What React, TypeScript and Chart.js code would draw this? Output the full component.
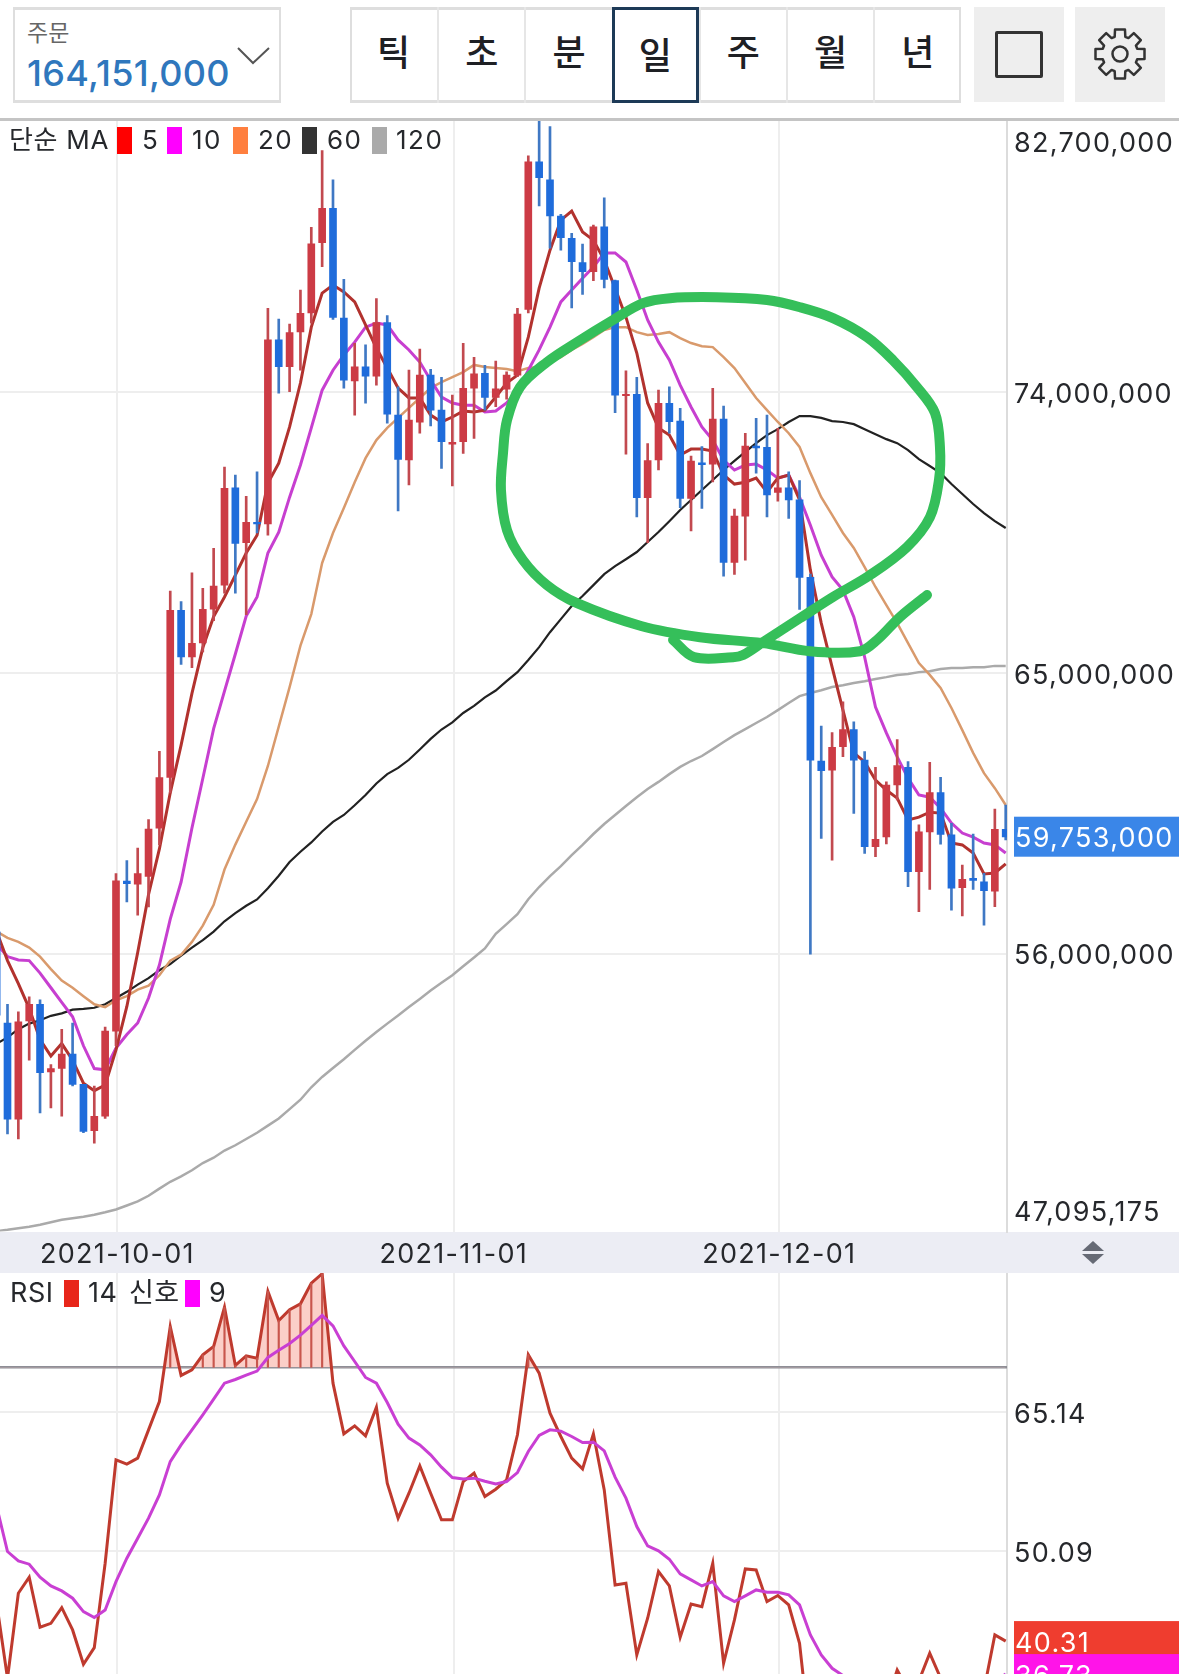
import { useEffect, useRef } from 'react'
import { Chart, registerables } from 'chart.js'

Chart.register(...registerables)

const FONT = "Inter, 'Noto Sans CJK KR', sans-serif"

// prices in millions of KRW, one entry per daily candle
const opens = [56.70,53.78,50.70,53.85,54.38,52.21,52.32,52.78,51.81,50.33,50.79,53.52,58.33,58.23,58.48,60.03,61.65,67.01,65.52,65.97,67.05,67.82,70.94,69.18,69.83,69.78,75.68,74.82,75.94,76.55,78.80,79.90,76.38,74.37,74.82,74.52,76.24,73.27,71.83,73.04,74.55,73.43,72.34,72.42,74.13,74.61,73.84,74.10,74.55,76.66,81.39,80.81,79.65,78.94,78.16,77.87,79.31,77.58,73.89,73.94,70.62,71.83,73.65,73.08,70.60,71.74,71.70,73.14,68.55,70.03,72.28,72.24,70.79,70.94,70.55,68.07,62.18,61.89,62.64,63.19,62.21,59.43,59.75,61.41,61.98,58.63,59.91,61.17,59.81,58.12,58.42,58.31,58.01,59.99]
const highs = [58.04,54.38,54.14,54.62,54.52,52.45,53.58,53.78,51.81,51.76,53.65,58.57,58.99,59.39,60.30,62.49,67.63,67.29,68.21,67.72,69.00,71.60,71.35,70.67,71.45,76.69,76.35,76.19,77.28,79.29,81.75,80.81,77.62,75.57,75.52,77.01,76.46,74.18,74.71,75.39,74.74,74.48,73.91,75.57,75.12,74.87,75.00,74.66,76.69,81.58,82.70,82.52,79.71,79.10,78.75,79.36,80.24,77.60,74.69,74.48,72.36,74.07,74.18,73.49,71.96,72.26,74.13,73.56,70.26,72.69,73.17,73.27,72.85,71.45,71.17,68.17,63.30,63.09,64.08,63.44,62.48,61.98,61.51,62.87,62.16,60.13,62.14,61.66,60.18,58.84,59.84,58.58,60.64,60.77]
const lows = [53.65,50.22,50.06,52.59,50.90,51.06,50.79,51.76,50.26,49.93,50.72,53.05,57.66,57.24,57.50,59.50,61.16,65.28,65.17,65.68,66.68,67.56,67.56,66.87,69.49,69.42,73.97,74.02,74.71,76.22,78.03,76.34,74.13,73.27,73.65,74.23,73.01,70.20,71.03,72.69,72.92,71.56,71.00,72.04,72.52,73.43,73.54,73.78,74.50,76.55,79.98,78.62,78.56,76.71,77.14,77.58,77.35,73.35,72.02,70.01,69.18,71.51,72.69,70.30,69.56,70.28,71.13,68.11,68.16,68.62,71.41,70.01,70.51,69.96,67.04,55.99,59.70,59.00,62.32,60.50,59.22,59.11,59.52,60.93,58.15,57.35,58.06,59.51,57.40,57.21,58.06,56.92,57.51,59.65]
const closes = [54.03,50.70,53.82,54.38,52.19,52.32,52.78,51.81,50.30,50.79,53.52,58.34,58.25,58.57,60.00,61.65,67.01,65.52,65.95,67.04,67.79,70.92,69.16,69.83,69.78,75.68,74.82,75.92,76.53,78.76,79.90,76.40,74.39,74.82,74.52,76.24,73.30,71.85,73.11,74.55,73.43,72.42,72.40,74.13,74.59,73.84,74.11,74.55,76.51,81.39,80.88,79.66,78.96,78.19,77.87,79.31,77.62,73.91,73.94,70.62,71.81,73.65,73.06,70.60,71.80,71.68,73.14,68.55,70.03,72.28,72.22,70.71,70.94,70.55,68.07,62.21,61.87,62.62,63.19,62.21,59.43,59.67,61.41,62.03,58.63,59.91,61.17,59.83,58.10,58.39,58.35,58.02,59.99,59.75]

const ma5 = [56.71,55.78,55.04,54.25,53.25,52.72,53.12,52.59,51.85,51.61,51.79,52.92,54.31,56.04,57.90,59.36,61.16,62.69,64.35,65.81,66.81,67.44,68.14,68.85,69.42,71.09,71.73,72.89,74.30,76.09,77.18,77.44,77.22,76.90,76.16,75.42,74.78,74.14,73.82,73.82,73.27,73.05,73.21,73.40,73.37,73.43,73.85,74.30,74.55,75.77,77.34,78.56,79.52,79.81,79.14,78.88,78.24,77.34,76.41,75.26,73.66,72.86,72.63,71.99,72.18,72.18,72.12,71.35,71.06,71.12,71.25,70.80,71.25,71.35,70.55,68.30,66.60,65.19,63.81,62.44,62.15,61.57,61.25,60.99,60.29,60.38,60.54,60.51,59.55,59.49,59.23,58.56,58.59,58.88]
const ma10 = [56.31,55.91,55.80,55.78,55.38,54.91,54.44,53.98,53.05,52.32,52.28,52.98,53.41,53.78,54.58,55.64,57.11,58.30,60.03,61.62,63.22,64.42,65.61,66.83,67.44,68.85,69.52,70.64,71.67,72.86,74.07,74.71,75.20,75.61,76.09,76.22,76.16,75.68,75.36,74.97,74.39,73.85,73.66,73.59,73.59,73.37,73.40,73.66,74.07,74.71,75.36,76.09,76.90,77.28,77.66,78.02,78.47,78.47,78.18,77.28,76.32,75.61,75.04,74.23,73.53,72.89,72.47,71.83,71.51,71.67,71.70,71.51,71.25,71.35,70.64,69.74,68.78,68.08,67.66,66.80,65.51,63.91,63.08,62.31,61.63,61.09,61.02,60.67,60.19,59.87,59.74,59.55,59.49,59.23]
const ma20 = [56.71,56.51,56.38,56.20,55.91,55.51,55.14,54.91,54.64,54.38,54.29,54.51,54.64,54.85,54.98,55.31,55.78,55.97,56.38,56.90,57.57,58.70,59.50,60.23,60.96,62.02,63.28,64.55,65.88,66.89,68.53,69.49,70.29,71.12,71.89,72.47,72.86,73.18,73.50,73.82,74.14,74.33,74.49,74.65,74.88,74.81,74.78,74.75,74.68,74.78,74.81,74.97,75.13,75.36,75.55,75.77,76.00,76.09,76.09,75.93,75.84,75.87,75.93,75.74,75.58,75.48,75.45,75.13,74.78,74.30,73.82,73.43,73.05,72.69,72.25,71.41,70.64,70.07,69.49,69.01,68.40,67.76,67.18,66.60,65.96,65.32,64.94,64.52,63.88,63.17,62.44,61.79,61.31,60.77]
const ma60 = [53.12,53.32,53.58,53.76,53.87,54.01,54.09,54.21,54.23,54.27,54.38,54.58,54.78,55.01,55.22,55.47,55.67,55.94,56.20,56.44,56.71,57.04,57.30,57.54,57.74,58.10,58.50,58.94,59.27,59.57,59.92,60.23,60.45,60.76,61.09,61.46,61.76,61.96,62.22,62.55,62.89,63.19,63.42,63.72,63.95,64.22,64.44,64.74,65.03,65.42,65.83,66.31,66.73,67.15,67.47,67.82,68.17,68.43,68.65,68.88,69.20,69.52,69.87,70.23,70.55,70.87,71.19,71.51,71.80,72.09,72.37,72.63,72.82,73.05,73.24,73.24,73.18,73.08,73.05,72.98,72.82,72.66,72.50,72.37,72.15,71.86,71.64,71.41,71.06,70.74,70.42,70.13,69.87,69.65]
const ma120 = [47.11,47.15,47.20,47.25,47.31,47.39,47.47,47.52,47.57,47.63,47.71,47.80,47.93,48.06,48.24,48.47,48.69,48.86,49.06,49.29,49.46,49.69,49.86,50.06,50.26,50.49,50.72,51.02,51.32,51.72,52.05,52.34,52.62,52.92,53.21,53.49,53.76,54.02,54.29,54.55,54.82,55.07,55.31,55.60,55.88,56.17,56.64,56.95,57.27,57.75,58.14,58.49,58.81,59.16,59.49,59.84,60.16,60.45,60.74,61.02,61.28,61.51,61.76,61.99,62.18,62.34,62.56,62.79,63.01,63.20,63.40,63.59,63.81,64.04,64.26,64.36,64.45,64.55,64.61,64.68,64.74,64.81,64.87,64.94,64.97,65.03,65.06,65.13,65.16,65.16,65.19,65.19,65.23,65.23]

const rsi = [44.41,36.28,45.50,47.23,41.81,42.24,43.94,41.52,37.80,39.60,48.75,59.97,59.50,60.15,63.22,66.29,74.43,69.12,69.73,71.36,72.26,76.53,70.20,71.25,71.00,78.23,75.08,76.24,76.89,79.13,80.15,68.28,62.79,63.65,62.57,65.68,57.43,53.64,56.35,59.31,56.35,53.46,53.46,57.61,58.52,55.99,56.78,57.80,62.68,71.36,69.37,65.03,62.50,60.15,58.99,62.79,56.71,46.40,46.58,38.81,42.79,47.85,46.29,40.72,44.34,44.05,48.75,37.90,42.61,48.14,48.03,44.59,45.25,44.23,40.07,29.4,30,31,33,32,30,31,33.5,37.18,35,36,38.99,36.3,33,34.5,34,35,40.98,40.31]
const rsiSignal = [54.90,50.02,49.01,48.65,47.23,46.29,45.75,44.96,43.51,42.86,43.69,46.76,49.30,51.47,53.64,56.17,59.78,61.59,63.22,64.85,66.55,68.28,68.68,69.15,69.59,71.07,71.86,72.59,73.49,74.54,75.63,74.50,72.33,70.63,68.90,68.28,66.19,63.84,62.32,61.59,60.51,59.17,58.05,57.90,57.98,57.65,57.36,57.61,58.59,60.87,62.61,63.22,63.08,62.50,61.85,61.88,60.94,58.09,55.81,52.73,50.63,50.09,49.19,47.60,46.95,46.29,46.76,45.21,44.59,45.21,45.86,45.61,45.61,45.32,44.23,40.98,38.81,37.36,36.57,35.5,34.5,33.5,33,33,33,33.3,34,34.5,34.5,34.5,34.8,35,36,36.73]

// hand drawn green circle, in the chart's own units (day index, price)
const penDays = [85.75,83.26,81.14,79.57,74.96,70.63,64.82,59.39,53.49,50.72,48.51,47.04,46.48,46.67,47.04,48.24,50.72,53.49,56.81,59.57,62.06,66.39,71.0,74.04,77.08,80.22,82.61,84.82,86.48,86.94,86.85,86.02,83.9,80.49,77.08,74.04,70.63,68.79,67.87,64.27,62.34]
const penPrices = [67.50,66.80,66.06,65.70,65.70,65.96,66.15,66.51,67.24,67.82,68.62,69.58,70.87,72.05,73.11,74.17,74.97,75.61,76.32,76.86,77.02,77.05,76.96,76.73,76.38,75.77,75.03,74.17,73.34,72.25,71.19,70.0,69.04,68.14,67.44,66.76,65.99,65.58,65.51,65.51,66.06]

// the date gridlines sit a little right of their candle in the original
const dateTicks = [11.13, 42.13, 72.13]
const dateLabels = ['2021-10-01', '2021-11-01', '2021-12-01']
const priceTicks = [74, 65, 56]
const priceTop = 82.7
const priceBottom = 47.095175
const lastPrice = 59.753
const rsiTicks = [65.14, 50.09]
const rsiTop = 80.23
const rsiBottom = 36.74
const rsiLimit = 70
const rsiLast = 40.31
const signalLast = 36.73

const tabs = ['틱', '초', '분', '일', '주', '월', '년']
const maLegend = [
  { label: '5', color: '#ff0000', box: 117, text: 142 },
  { label: '10', color: '#ff00ff', box: 167, text: 192 },
  { label: '20', color: '#ff7f3f', box: 233, text: 258 },
  { label: '60', color: '#333333', box: 302, text: 327 },
  { label: '120', color: '#aaaaaa', box: 372, text: 396 },
]

const DAY_MIN = 0.309
const DAY_MAX = 93.12
const RED = '#cc3b45'
const BLUE = '#1f6cdb'
const RED_WICK = '#c2494f'
const BLUE_WICK = '#3f78c4'
const GRID = '#eeeeee'

const days = closes.map((_, i) => i)
const toPoints = (values: number[]) => values.map((y, x) => ({ x, y }))
const won = (v: number) => Math.round(v * 1e6).toLocaleString('en-US')

const line = (label: string, data: number[], color: string, width: number, order: number) => ({
  type: 'line' as const,
  label,
  data: toPoints(data),
  borderColor: color,
  borderWidth: width,
  pointRadius: 0,
  tension: 0,
  order,
})

const xAxis = (showLabels: boolean) => ({
  type: 'linear' as const,
  min: DAY_MIN,
  max: DAY_MAX,
  offset: false,
  afterBuildTicks: (scale: any) => {
    scale.ticks = dateTicks.map((value) => ({ value }))
  },
  afterFit: (scale: any) => {
    scale.height = showLabels ? 41.5 : 0
    scale.paddingLeft = 0
    scale.paddingRight = 0
  },
  grid: { color: GRID, lineWidth: 2, drawTicks: false, offset: false },
  border: { display: false },
  ticks: {
    display: showLabels,
    autoSkip: false,
    maxRotation: 0,
    padding: 7,
    color: '#26282c',
    font: { family: FONT, size: 27 },
    callback: (_: any, index: number) => dateLabels[index],
  },
})

const yAxis = (min: number, max: number, values: number[], format: (v: number) => string) => ({
  type: 'linear' as const,
  position: 'right' as const,
  min,
  max,
  afterBuildTicks: (scale: any) => {
    scale.ticks = values.map((value) => ({ value }))
  },
  afterFit: (scale: any) => {
    scale.width = 172
    // the panel runs edge to edge, no room kept for half a tick label
    scale.paddingTop = 0
    scale.paddingBottom = 0
  },
  grid: { color: GRID, lineWidth: 2, drawTicks: false },
  border: { color: '#dcdcdc', width: 2 },
  ticks: {
    autoSkip: false,
    padding: 7,
    labelOffset: 2.5,
    color: '#26282c',
    font: { family: FONT, size: 27 },
    callback: (value: any) => format(value),
  },
})

const spacedText = {
  id: 'spacedText',
  beforeDraw: (chart: any) => {
    chart.ctx.letterSpacing = '1.3px'
  },
}

const priceLabels = {
  id: 'priceLabels',
  afterDraw: (chart: any) => {
    const { ctx, chartArea, scales } = chart
    const x = chartArea.right + 7
    ctx.save()
    ctx.font = `27px ${FONT}`
    ctx.textBaseline = 'middle'
    ctx.fillStyle = '#26282c'
    ctx.fillText(won(priceTop), x, chartArea.top + 23)
    ctx.fillText(won(priceBottom), x, chartArea.bottom - 19)
    const y = scales.y.getPixelForValue(lastPrice)
    ctx.fillStyle = '#3a86e8'
    ctx.fillRect(x, y - 20, 172, 40)
    ctx.fillStyle = '#ffffff'
    ctx.fillText(won(lastPrice), x + 1, y + 2.5)
    ctx.restore()
  },
}

const rsiLabels = {
  id: 'rsiLabels',
  afterDraw: (chart: any) => {
    const { ctx, chartArea, scales } = chart
    const x = chartArea.right + 7
    ctx.save()
    ctx.font = `27px ${FONT}`
    ctx.textBaseline = 'middle'
    const badges = [
      { value: rsiLast, color: '#ef3d2f' },
      { value: signalLast, color: '#ff14e8' },
    ]
    badges.forEach(({ value, color }) => {
      const y = scales.y.getPixelForValue(value)
      ctx.fillStyle = color
      ctx.fillRect(x, y - 20, 172, 40)
      ctx.fillStyle = '#ffffff'
      ctx.fillText(value.toFixed(2), x + 1, y + 2.5)
    })
    ctx.restore()
  },
}

function PriceChart() {
  const ref = useRef<HTMLCanvasElement>(null)

  useEffect(() => {
    if (!ref.current) return
    const candleColors = closes.map((c, i) => (c >= opens[i] ? RED : BLUE))
    const wickColors = closes.map((c, i) => (c >= opens[i] ? RED_WICK : BLUE_WICK))

    const chart = new Chart(ref.current, {
      type: 'bar',
      data: {
        datasets: [
          {
            type: 'line',
            label: 'pen',
            data: penDays.map((x, i) => ({ x, y: penPrices[i] })),
            borderColor: '#35bf5a',
            borderWidth: 10,
            borderCapStyle: 'round',
            borderJoinStyle: 'round',
            pointRadius: 0,
            tension: 0.35,
            order: 0,
          },
          {
            label: 'body',
            data: days.map((x) => ({ x, y: [opens[x], closes[x]] })),
            backgroundColor: candleColors,
            barThickness: 7,
            grouped: false,
            order: 1,
          },
          {
            label: 'wick',
            data: days.map((x) => ({ x, y: [lows[x], highs[x]] })),
            backgroundColor: wickColors,
            barThickness: 2,
            grouped: false,
            order: 2,
          },
          line('MA5', ma5, '#b2322e', 3, 3),
          line('MA10', ma10, '#c73fd0', 3, 4),
          line('MA20', ma20, '#d99a6c', 2.5, 5),
          line('MA60', ma60, '#222222', 2.2, 6),
          line('MA120', ma120, '#aaaaaa', 2.5, 7),
        ] as any,
      },
      options: {
        responsive: false,
        animation: false,
        events: [],
        layout: { padding: 0, autoPadding: false },
        plugins: { legend: { display: false }, tooltip: { enabled: false } },
        scales: {
          x: xAxis(true),
          y: yAxis(priceBottom, priceTop, priceTicks, won),
        } as any,
      },
      plugins: [spacedText, priceLabels],
    })

    return () => chart.destroy()
  }, [])

  return (
    <canvas
      ref={ref}
      width={1179}
      height={1152}
      style={{ position: 'absolute', left: 0, top: 121, display: 'block' }}
    />
  )
}

function RsiChart() {
  const ref = useRef<HTMLCanvasElement>(null)

  useEffect(() => {
    if (!ref.current) return

    const chart = new Chart(ref.current, {
      type: 'line',
      data: {
        datasets: [
          {
            type: 'line',
            label: 'signal',
            data: toPoints(rsiSignal),
            borderColor: '#c93fd3',
            borderWidth: 3,
            pointRadius: 0,
            tension: 0,
            order: 0,
          },
          {
            type: 'bar',
            label: 'over',
            data: days.filter((x) => rsi[x] > rsiLimit).map((x) => ({ x, y: [rsiLimit, rsi[x]] })),
            backgroundColor: '#c8564d',
            barThickness: 1.5,
            grouped: false,
            order: 0.5,
          },
          {
            type: 'line',
            label: 'RSI',
            data: toPoints(rsi),
            borderColor: '#bf3a2e',
            borderWidth: 3,
            pointRadius: 0,
            tension: 0,
            order: 1,
            fill: { target: { value: rsiLimit }, above: '#fbcfc8', below: 'rgba(0,0,0,0)' },
          },
          {
            type: 'line',
            label: 'limit',
            data: [
              { x: DAY_MIN, y: rsiLimit },
              { x: DAY_MAX, y: rsiLimit },
            ],
            borderColor: '#8e8e96',
            borderWidth: 2.5,
            pointRadius: 0,
            order: 3,
          },
        ] as any,
      },
      options: {
        responsive: false,
        animation: false,
        events: [],
        layout: { padding: 0, autoPadding: false },
        plugins: { legend: { display: false }, tooltip: { enabled: false } },
        scales: {
          x: xAxis(false),
          y: yAxis(rsiBottom, rsiTop, rsiTicks, (v) => v.toFixed(2)),
        } as any,
      },
      plugins: [spacedText, rsiLabels],
    })

    return () => chart.destroy()
  }, [])

  return (
    <canvas
      ref={ref}
      width={1179}
      height={401}
      style={{ position: 'absolute', left: 0, top: 1273, display: 'block' }}
    />
  )
}

function Gear() {
  // eight teeth around a ring
  const pts: string[] = []
  for (let i = 0; i < 8; i++) {
    const a = (i * Math.PI) / 4 - Math.PI / 2
    ;[[-0.3, 18], [-0.2, 25], [0.2, 25], [0.3, 18]].forEach(([da, r]) => {
      pts.push(`${30 + r * Math.cos(a + da)},${30 + r * Math.sin(a + da)}`)
    })
  }
  return (
    <svg width={60} height={60} style={{ position: 'absolute', left: 1090, top: 24 }}>
      <polygon points={pts.join(' ')} fill="none" stroke="#333" strokeWidth={2.5} strokeLinejoin="round" />
      <circle cx={30} cy={30} r={7.5} fill="none" stroke="#333" strokeWidth={2.5} />
    </svg>
  )
}

const abs = (left: number, top: number, extra: object = {}) =>
  ({ position: 'absolute', left, top, whiteSpace: 'nowrap', ...extra }) as const

function Header() {
  return (
    <>
      <div style={abs(13, 7, { width: 268, height: 96, boxSizing: 'border-box', border: '2px solid #dedede', borderTopWidth: 3, borderBottomWidth: 3 })} />
      <div style={abs(27, 17, { fontSize: 23, color: '#666', lineHeight: '32px' })}>주문</div>
      <div style={abs(27, 52, { fontSize: 36, color: '#2f77bd', fontWeight: 500, lineHeight: '42px', letterSpacing: 0.3 })}>164,151,000</div>
      <svg width={36} height={20} style={{ position: 'absolute', left: 236, top: 46 }}>
        <polyline points="2,2 17,17 33,2" fill="none" stroke="#555" strokeWidth={2} />
      </svg>

      <div style={abs(350, 7, { width: 611, height: 96, boxSizing: 'border-box', border: '2px solid #dedede', borderTopWidth: 3, borderBottomWidth: 3 })} />
      {tabs.map((tab, i) => {
        const selected = tab === '일'
        const left = 350 + i * 87.2
        return (
          <div
            key={tab}
            style={abs(left, 7, {
              width: 87.2,
              height: 96,
              boxSizing: 'border-box',
              borderLeft: selected ? '3px solid #1d3a57' : i > 0 ? '2px solid #e6e6e6' : 'none',
              borderRight: selected ? '3px solid #1d3a57' : 'none',
              borderTop: selected ? '3px solid #1d3a57' : 'none',
              borderBottom: selected ? '3px solid #1d3a57' : 'none',
              textAlign: 'center',
              lineHeight: '92px',
              fontSize: 36,
              fontWeight: 500,
              color: '#1e2024',
            })}
          >
            {tab}
          </div>
        )
      })}

      <div style={abs(974, 7, { width: 90, height: 95, background: '#eeeeee' })} />
      <div style={abs(995, 31, { width: 48, height: 47, boxSizing: 'border-box', border: '3px solid #333', borderRadius: 2 })} />
      <div style={abs(1075, 7, { width: 90, height: 95, background: '#eeeeee' })} />
      <Gear />

      <div style={abs(0, 118, { width: 1179, height: 3, background: '#c4c4c4' })} />
    </>
  )
}

function MainLegend() {
  const text = { fontSize: 26, lineHeight: '36px', color: '#26282c', letterSpacing: 1.5 }
  return (
    <>
      <div style={abs(9, 122, { ...text, letterSpacing: 0.7 })}>단순 MA</div>
      {maLegend.map((item) => (
        <span key={item.label}>
          <div style={abs(item.box, 127, { width: 15, height: 27, background: item.color })} />
          <div style={abs(item.text, 122, text)}>{item.label}</div>
        </span>
      ))}
    </>
  )
}

function RsiLegend() {
  const text = { fontSize: 27, lineHeight: '36px', color: '#26282c', letterSpacing: 0.5 }
  return (
    <>
      <div style={abs(10, 1275, text)}>RSI</div>
      <div style={abs(64, 1280, { width: 15, height: 27, background: '#e8261a' })} />
      <div style={abs(88, 1275, text)}>14</div>
      <div style={abs(129, 1275, text)}>신호</div>
      <div style={abs(185, 1280, { width: 15, height: 27, background: '#ff00ff' })} />
      <div style={abs(209, 1275, text)}>9</div>
    </>
  )
}

export default function App() {
  return (
    <div style={{ position: 'relative', width: 1179, height: 1674, overflow: 'hidden', background: '#fff', fontFamily: FONT }}>
      <style>{'body{margin:0}'}</style>
      <Header />
      <div style={abs(0, 1232, { width: 1179, height: 41, background: '#ecedf4' })} />
      <svg width={28} height={28} style={{ position: 'absolute', left: 1079, top: 1239 }}>
        <polygon points="14,2 25,12 3,12" fill="#666a75" />
        <polygon points="14,25 25,15 3,15" fill="#666a75" />
      </svg>
      <PriceChart />
      <RsiChart />
      <MainLegend />
      <RsiLegend />
    </div>
  )
}
